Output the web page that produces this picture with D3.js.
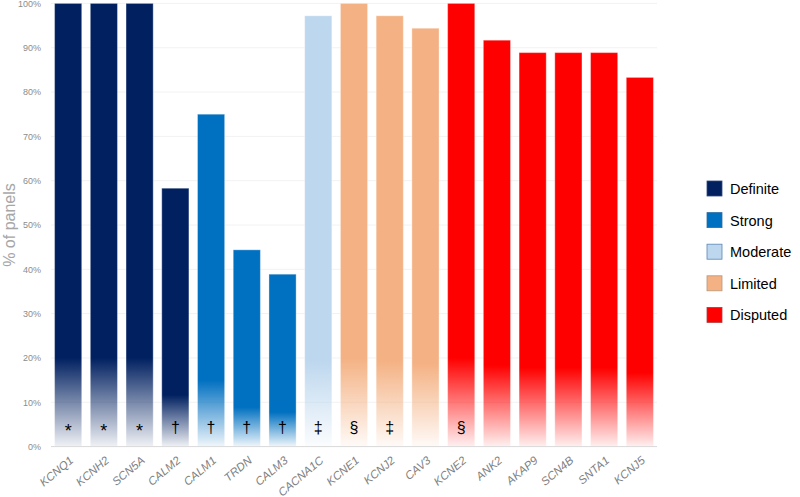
<!DOCTYPE html>
<html>
<head>
<meta charset="utf-8">
<script src="https://cdn.jsdelivr.net/npm/d3@7"></script>
<style>
  body { margin: 0; background: #fff; }
  svg { display: block; }
</style>
</head>
<body>
<svg id="chart" width="800" height="497"></svg>
<script>
const genes = ["KCNQ1","KCNH2","SCN5A","CALM2","CALM1","TRDN","CALM3","CACNA1C","KCNE1","KCNJ2","CAV3","KCNE2","ANK2","AKAP9","SCN4B","SNTA1","KCNJ5"];
const values = [100,100,100,58.3,75,44.4,38.9,97.2,100,97.2,94.4,100,91.7,88.9,88.9,88.9,83.3];
const classes = ["Definite","Definite","Definite","Definite","Strong","Strong","Strong","Moderate","Limited","Limited","Limited","Disputed","Disputed","Disputed","Disputed","Disputed","Disputed"];
const marks = ["*","*","*","†","†","†","†","‡","§","‡","","§","","","","",""];
const legendLabels = ["Definite","Strong","Moderate","Limited","Disputed"];
const legendColors = ["#002060","#0070C0","#BDD7EE","#F4B183","#FF0000"];
const legendBorders = ["#2F4A80","#2E6DA4","#5B86B5","#B8967A","#B33A3A"];
const yTicks = [0,10,20,30,40,50,60,70,80,90,100];

const svg = d3.select("#chart");
const margin = {left: 51, right: 143, top: 3.4, bottom: 50.4};
const W = 800, H = 497;

const x = d3.scaleBand().domain(genes).range([margin.left, W - margin.right]).paddingInner(0.24).paddingOuter(0.1);
const y = d3.scaleLinear().domain([0,100]).range([H - margin.bottom, margin.top]);

// gradients
const defs = svg.append("defs");
legendLabels.forEach((c, i) => {
  const g = defs.append("linearGradient").attr("id", "grad" + i)
    .attr("x1", 0).attr("y1", 0).attr("x2", 0).attr("y2", 1);
  g.append("stop").attr("offset", "0").attr("stop-color", legendColors[i]);
  g.append("stop").attr("offset", "0.8").attr("stop-color", legendColors[i]);
  g.append("stop").attr("offset", "1").attr("stop-color", legendColors[i]).attr("stop-opacity", 0.06);
});

// gridlines
svg.append("g").selectAll("line").data(yTicks.filter(d => d > 0)).join("line")
  .attr("x1", margin.left).attr("x2", W - margin.right)
  .attr("y1", d => y(d)).attr("y2", d => y(d))
  .attr("stroke", "#F2F2F2").attr("stroke-width", 1);

// y axis labels
const yAxis = d3.axisLeft(y).tickValues(yTicks).tickFormat(d => d + "%").tickSize(0).tickPadding(10);
const ya = svg.append("g").attr("transform", `translate(${margin.left},0)`).call(yAxis);
ya.select(".domain").remove();
ya.selectAll("text").attr("fill", "#8C8C8C").style("font-family", "Liberation Sans, Arial, sans-serif").style("font-size", "9px");

// y title
svg.append("text")
  .attr("transform", `translate(15,${y(50)}) rotate(-90)`)
  .attr("text-anchor", "middle")
  .attr("fill", "#A6A6A6")
  .style("font-family", "Liberation Sans, Arial, sans-serif")
  .style("font-size", "16px")
  .text("% of panels");

// bars
svg.append("g").selectAll("rect").data(genes).join("rect")
  .attr("x", (d) => x(d))
  .attr("width", x.bandwidth())
  .attr("y", (d, i) => y(values[i]))
  .attr("height", (d, i) => y(0) - y(values[i]))
  .attr("fill", (d, i) => "url(#grad" + legendLabels.indexOf(classes[i]) + ")")
  .attr("stroke", "#ffffff").attr("stroke-opacity", 0.35).attr("stroke-width", 1);

// annotation marks
svg.append("g").selectAll("text").data(genes).join("text")
  .attr("x", d => x(d) + x.bandwidth() / 2)
  .attr("y", (d, i) => marks[i] === "*" ? 437 : 433)
  .attr("text-anchor", "middle")
  .attr("fill", "#000")
  .style("font-family", "Liberation Sans, Arial, sans-serif")
  .style("font-size", (d, i) => marks[i] === "*" ? "18px" : "16px")
  .text((d, i) => marks[i]);

// x axis
svg.append("line")
  .attr("x1", margin.left).attr("x2", W - margin.right)
  .attr("y1", y(0)).attr("y2", y(0))
  .attr("stroke", "#D9D9D9").attr("stroke-width", 1);

const xAxis = d3.axisBottom(x).tickSize(0).tickPadding(0);
const xa = svg.append("g").attr("transform", `translate(0,${y(0)})`).call(xAxis);
xa.select(".domain").remove();
xa.selectAll("text")
  .attr("fill", "#7F7F7F")
  .style("font-family", "Liberation Sans, Arial, sans-serif")
  .style("font-size", "11.5px")
  .style("font-style", "italic")
  .attr("text-anchor", "end")
  .attr("dy", "0")
  .attr("transform", "translate(6,15) rotate(-40)");

// legend
const lg = svg.append("g").selectAll("g").data(legendLabels).join("g")
  .attr("transform", (d, i) => `translate(707,${181 + i * 31.6})`);
lg.append("rect").attr("width", 15).attr("height", 15)
  .attr("fill", (d, i) => legendColors[i])
  .attr("stroke", (d, i) => legendBorders[i]).attr("stroke-width", 0.8);
lg.append("text").attr("x", 23).attr("y", 13)
  .attr("fill", "#000")
  .style("font-family", "Liberation Sans, Arial, sans-serif")
  .style("font-size", "14.5px")
  .text(d => d);
</script>
</body>
</html>
